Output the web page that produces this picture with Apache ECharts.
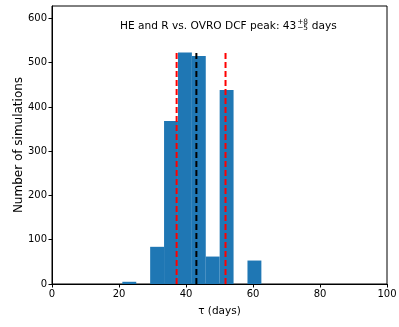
<!DOCTYPE html>
<html>
<head>
<meta charset="utf-8">
<script src="https://cdn.jsdelivr.net/npm/echarts@6/dist/echarts.min.js"></script>
<style>html,body{margin:0;padding:0;background:#fff}#c{width:399px;height:327px}</style>
</head>
<body>
<div id="c"></div>
<script>
// Histogram bin edges (days) and counts
const binEdges = [21.0, 25.15, 29.3, 33.45, 37.6, 41.75, 45.9, 50.05, 54.2, 58.35, 62.5];
const counts = [5, 0, 84, 368, 523, 515, 62, 438, 0, 53];
// Vertical reference lines
const peakValue = 43.1;
const lowerValue = 37.2;
const upperValue = 51.8;
const lineTop = 523;
const xTicks = [0, 20, 40, 60, 80, 100];
const yTicks = [0, 100, 200, 300, 400, 500, 600];
const titleMain = 'HE and R vs. OVRO DCF peak: 43';
const titleSup = '+8';
const titleSub = '\u22125';
const titleEnd = ' days';

const FONT = "'DejaVu Sans', sans-serif";
const chart = echarts.init(document.getElementById('c'), null, {renderer: 'canvas'});

const histData = counts.map((c, i) => [binEdges[i], binEdges[i + 1], c]);

function vline(x, color) {
  return {
    type: 'line', data: [[x, 0], [x, lineTop]], symbol: 'none', z: 5,
    silent: true, animation: false,
    lineStyle: {color: color, width: 2, type: [6, 3]}
  };
}

// measure text for title layout
const cv = document.createElement('canvas').getContext('2d');
function tw(t, size) { cv.font = size + 'px ' + FONT; return cv.measureText(t).width; }
const mainSize = 10.6, smallSize = 7.4;
const wMain = tw(titleMain, mainSize);
const wSmall = Math.max(tw(titleSup, smallSize), tw(titleSub, smallSize));
const wEnd = tw(titleEnd, mainSize);
const x0 = 120;
const midY = 26;

chart.setOption({
  animation: false,
  grid: {left: 52, right: 12, top: 6, bottom: 43, outerBoundsMode: 'none', containLabel: false,
    show: true, borderColor: '#000', borderWidth: 1, backgroundColor: 'transparent'},
  xAxis: {
    type: 'value', min: 0, max: 100, interval: 20,
    name: '\u03c4 (days)', nameLocation: 'middle', nameGap: 22, nameMoveOverlap: false,
    nameTextStyle: {color: '#000', fontSize: 10.5, fontFamily: FONT},
    axisLine: {show: true, lineStyle: {color: '#000', width: 1}},
    axisTick: {show: true, inside: false, length: 3.5, lineStyle: {color: '#000'}},
    axisLabel: {color: '#000', fontSize: 10, fontFamily: FONT, margin: 5},
    splitLine: {show: false}
  },
  yAxis: {
    type: 'value', min: 0, max: 628,
    name: 'Number of simulations', nameLocation: 'middle', nameGap: 27, nameMoveOverlap: false,
    nameTextStyle: {color: '#000', fontSize: 12, fontFamily: FONT},
    axisLine: {show: true, lineStyle: {color: '#000', width: 1}},
    axisTick: {show: true, inside: false, length: 3.5, lineStyle: {color: '#000'}, customValues: yTicks},
    axisLabel: {color: '#000', fontSize: 10, fontFamily: FONT, margin: 5, customValues: yTicks},
    splitLine: {show: false}
  },
  series: [
    {
      type: 'custom', data: histData, z: 2,
      renderItem: function (params, api) {
        const a = api.coord([api.value(0), api.value(2)]);
        const b = api.coord([api.value(1), 0]);
        return {type: 'rect', shape: {x: a[0], y: a[1], width: b[0] - a[0], height: b[1] - a[1]},
          style: {fill: '#1f77b4', stroke: null}};
      },
      encode: {x: [0, 1], y: 2}
    },
    vline(lowerValue, '#ff0000'),
    vline(upperValue, '#ff0000'),
    vline(peakValue, '#000000')
  ],
  graphic: [
    {type: 'text', x: x0, y: midY, style: {text: titleMain, font: mainSize + 'px ' + FONT, fill: '#000', verticalAlign: 'middle'}},
    {type: 'text', x: x0 + wMain + 0.8, y: midY - 3.6, style: {text: titleSup, font: smallSize + 'px ' + FONT, fill: '#000', verticalAlign: 'middle'}},
    {type: 'text', x: x0 + wMain + 0.8, y: midY + 2.4, style: {text: titleSub, font: smallSize + 'px ' + FONT, fill: '#000', verticalAlign: 'middle'}},
    {type: 'text', x: x0 + wMain + wSmall + 1.2, y: midY, style: {text: titleEnd, font: mainSize + 'px ' + FONT, fill: '#000', verticalAlign: 'middle'}}
  ]
});
</script>
</body>
</html>
